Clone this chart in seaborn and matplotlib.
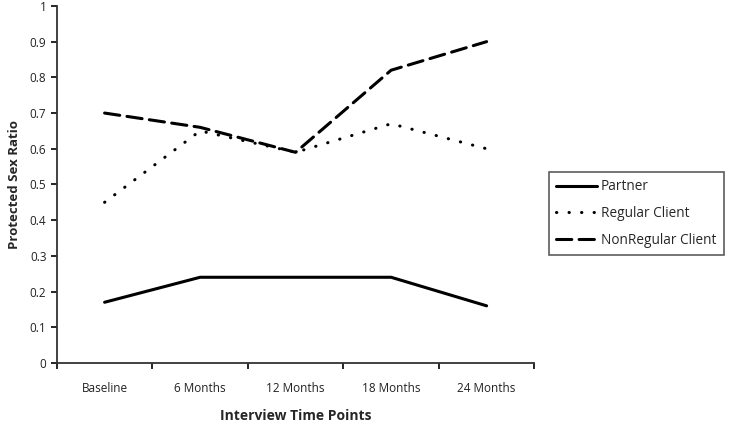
"""Protected sex ratio over interview time points, Excel-style line chart."""
import matplotlib
matplotlib.use('Agg')
import matplotlib.pyplot as plt
import pandas as pd
import seaborn as sns

# time points and protected sex ratio per partner type
time_points = ['Baseline', '6 Months', '12 Months', '18 Months', '24 Months']
partner = [0.17, 0.24, 0.24, 0.24, 0.16]
regular_client = [0.45, 0.65, 0.59, 0.67, 0.60]
nonregular_client = [0.70, 0.66, 0.59, 0.82, 0.90]
series_names = ['Partner', 'Regular Client', 'NonRegular Client']

frames = []
for name, values in zip(series_names, [partner, regular_client, nonregular_client]):
    frames.append(pd.DataFrame({'time': time_points, 'ratio': values, 'type': name}))
df = pd.concat(frames, ignore_index=True)

sns.set_style('ticks')
plt.rcParams['font.family'] = ['Open Sans', 'DejaVu Sans']

fig = plt.figure(figsize=(7.29, 4.25), dpi=100)
axes = fig.add_axes([0.078, 0.146, 0.655, 0.84])

dash_styles = {
    'Partner': '',
    'Regular Client': (0.1, 4.0),
    'NonRegular Client': (5.0, 2.4),
}
sns.lineplot(data=df, x='time', y='ratio', style='type', dashes=dash_styles,
             color='black', linewidth=2.2, sort=False, ax=axes,
             dash_capstyle='round')

axes.set_xlim(-0.5, len(time_points) - 0.5)
axes.set_ylim(0, 1)
axes.set_yticks([i / 10 for i in range(11)])
axes.set_yticklabels(['0'] + [f'0.{i}' for i in range(1, 10)] + ['1'])

# category labels sit between tick marks, like Excel
axes.set_xticks([i - 0.5 for i in range(len(time_points) + 1)])
axes.set_xticklabels([])
axes.set_xticks(range(len(time_points)), minor=True)
axes.set_xticklabels(time_points, minor=True)
axes.tick_params(axis='x', which='minor', length=0, pad=14, labelsize=8.5, colors='#222222')
axes.tick_params(axis='x', which='major', length=4, width=1.2, direction='out', color='black')
axes.tick_params(axis='y', length=4, width=1.2, labelsize=8.5, colors='#222222')
axes.tick_params(axis='y', color='black')

for side in ['top', 'right']:
    axes.spines[side].set_visible(False)
for side in ['left', 'bottom']:
    axes.spines[side].set_linewidth(1.3)
    axes.spines[side].set_color('#333333')

axes.set_xlabel('Interview Time Points', fontsize=10, fontweight='bold', labelpad=10)
axes.set_ylabel('Protected Sex Ratio', fontsize=9.5, fontweight='bold', labelpad=6)

handles, labels = axes.get_legend_handles_labels()
legend = axes.legend(handles, labels, loc='upper left', bbox_to_anchor=(1.03, 0.535),
                     frameon=True, fancybox=False, edgecolor='#333333',
                     fontsize=9.8, handlelength=3.0, handletextpad=0.3,
                     labelspacing=0.85, borderpad=0.55, borderaxespad=0)
legend.get_frame().set_linewidth(1.2)

fig.savefig('out.png', dpi=100)
